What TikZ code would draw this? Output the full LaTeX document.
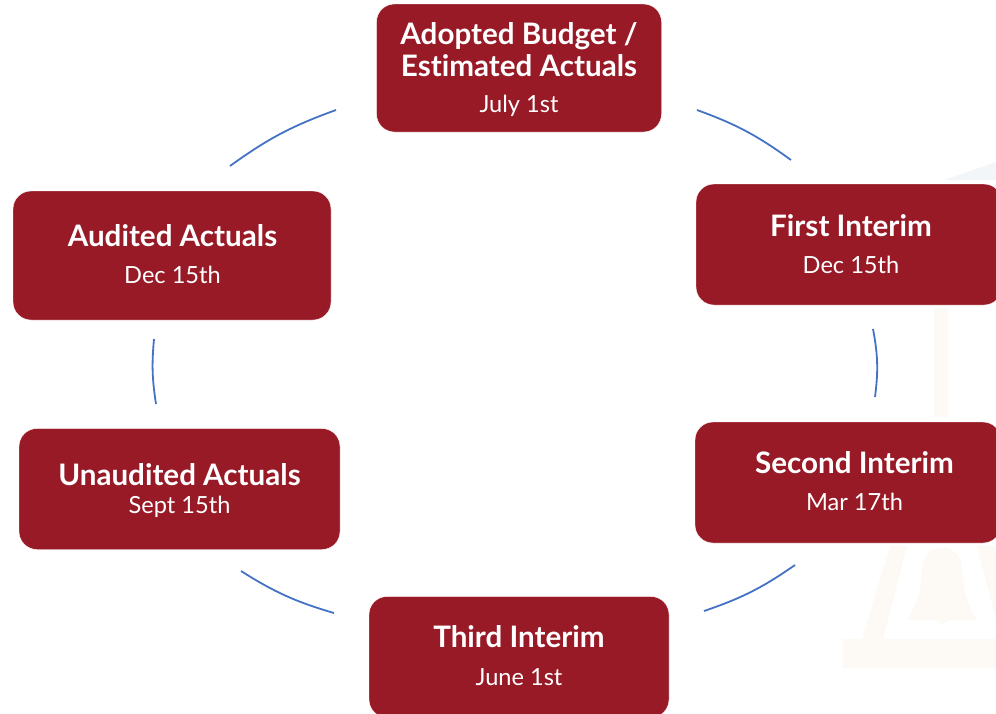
\documentclass[tikz,border=0pt]{standalone}
\usepackage{fontspec}
\setmainfont{Lato}[Ligatures={NoCommon}]
\definecolor{boxred}{HTML}{971A26}
\definecolor{arcblue}{HTML}{4472C4}
\definecolor{wmcream}{HTML}{FDF9F4}
\definecolor{wmblue}{HTML}{F3F6F9}
\tikzset{
  box/.style={fill=boxred,draw=white,line width=0.4pt,rounded corners=18pt,anchor=center,inner sep=0pt},
  ttl/.style={text=white,anchor=base,inner sep=0pt,font=\fontsize{29.6pt}{32pt}\selectfont\bfseries},
  dte/.style={text=white,anchor=base,inner sep=0pt,font=\fontsize{23.6pt}{26pt}\selectfont},
  arc/.style={draw=arcblue,line width=1.8pt}
}
\begin{document}
\begin{tikzpicture}[x=1pt,y=-1pt]
\useasboundingbox (0,0) rectangle (996,713);
\clip (0,0) rectangle (996,713);
% faint watermark
\fill[wmblue] (944,180) -- (996,162) -- (996,180) -- cycle;
\fill[wmcream] (934,308) rectangle (948,417);
\fill[wmcream] (843,639) rectangle (1040,668);
\fill[wmcream] (862,639) -- (890,546) -- (907,546) -- (883,639) -- cycle;
\fill[wmcream] (977,546) -- (994,546) -- (1022,639) -- (1001,639) -- cycle;
\fill[wmcream] (907,620) .. controls (920,600) and (921,585) .. (922,568)
  .. controls (923,556) and (930,550) .. (937,548) -- (947,548)
  .. controls (954,550) and (961,556) .. (962,568)
  .. controls (963,585) and (964,600) .. (977,620)
  -- (948,620) -- (942,625) -- (936,620) -- cycle;
% boxes
\node[box,minimum width=285pt,minimum height=128pt] (top) at (519,68) {};
\node[box,minimum width=306pt,minimum height=121pt] (first) at (849,244.5) {};
\node[box,minimum width=306pt,minimum height=121pt] (second) at (848,482.5) {};
\node[box,minimum width=300pt,minimum height=121pt] (third) at (519,657) {};
\node[box,minimum width=318pt,minimum height=129pt] (audited) at (172,255.5) {};
\node[box,minimum width=321pt,minimum height=121pt] (unaudited) at (179.5,489) {};
% texts
\node[ttl] (topA) at (519,44) {Adopted Budget /};
\node[ttl] (topB) at (519,76) {Estimated Actuals};
\node[dte] (topC) at (519,112.5) {July 1st};
\node[ttl] (firstA) at (851,236.5) {First Interim};
\node[dte] (firstB) at (851,273.5) {Dec 15th};
\node[ttl] (secondA) at (854.5,473.5) {Second Interim};
\node[dte] (secondB) at (854.5,510.5) {Mar 17th};
\node[ttl] (thirdA) at (519,647.5) {Third Interim};
\node[dte] (thirdB) at (519,685.5) {June 1st};
\node[ttl] (auditedA) at (172.5,246) {Audited Actuals};
\node[dte] (auditedB) at (172.5,283.5) {Dec 15th};
\node[ttl] (unauditedA) at (179.5,485) {Unaudited Actuals};
\node[dte] (unauditedB) at (179.5,513) {Sept 15th};
% arc ends
\coordinate (a1) at (697,110); \coordinate (a2) at (791,160);
\coordinate (b1) at (873,329); \coordinate (b2) at (875,397);
\coordinate (c1) at (795,565); \coordinate (c2) at (704,611);
\coordinate (d1) at (334,613); \coordinate (d2) at (241,571);
\coordinate (e1) at (156,404); \coordinate (e2) at (154,339);
\coordinate (f1) at (230,166); \coordinate (f2) at (336,110);
\draw[arc] (a1) to[bend left=8] (a2);
\draw[arc] (b1) to[bend left=9] (b2);
\draw[arc] (c1) to[bend left=8] (c2);
\draw[arc] (d1) to[bend left=8] (d2);
\draw[arc] (e1) to[bend left=7] (e2);
\draw[arc] (f1) to[bend left=8] (f2);
\end{tikzpicture}
\end{document}
